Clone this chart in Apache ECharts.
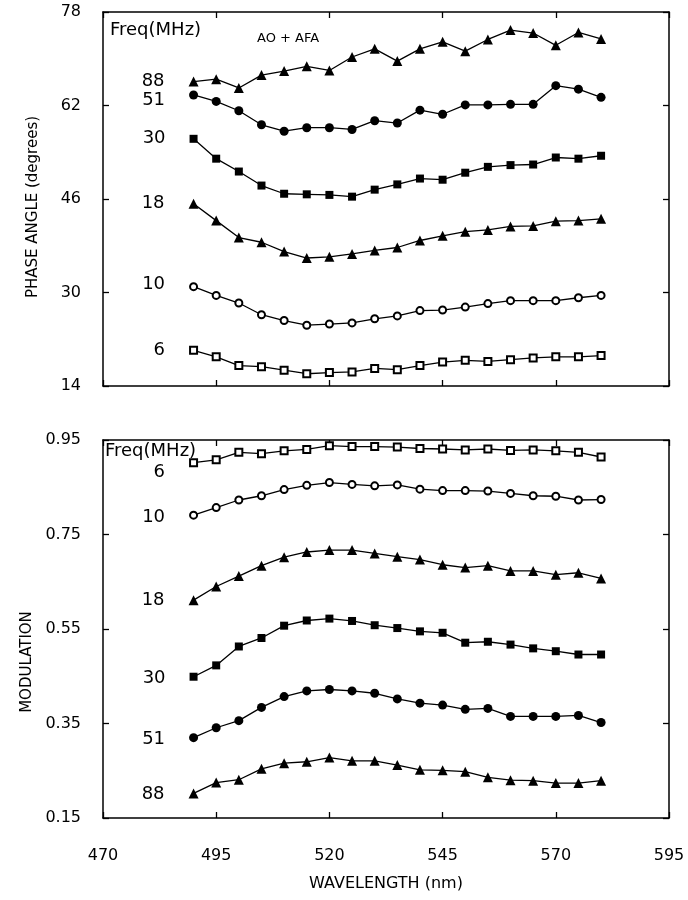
<!DOCTYPE html>
<html>
<head>
<meta charset="utf-8">
<script src="https://cdn.jsdelivr.net/npm/echarts@6/dist/echarts.min.js"></script>
<style>
html,body{margin:0;padding:0;background:#fff;}
#chart{width:688px;height:900px;}
</style>
</head>
<body>
<div id="chart"></div>
<script>
// ---- data ----
const wavelengths = [490,495,500,505,510,515,520,525,530,535,540,545,550,555,560,565,570,575,580];

const phase88 = [66.1,66.5,65.0,67.2,67.9,68.7,68.0,70.3,71.7,69.6,71.7,72.9,71.3,73.3,74.9,74.4,72.3,74.5,73.4];
const phase51 = [63.8,62.7,61.1,58.7,57.6,58.2,58.2,57.9,59.4,59.0,61.2,60.5,62.1,62.1,62.2,62.2,65.4,64.8,63.4];
const phase30 = [56.3,52.9,50.7,48.3,46.9,46.8,46.7,46.4,47.6,48.5,49.5,49.3,50.5,51.5,51.8,51.9,53.1,52.9,53.4];
const phase18 = [45.2,42.3,39.4,38.6,37.0,35.9,36.1,36.6,37.2,37.7,38.9,39.7,40.4,40.7,41.3,41.4,42.2,42.3,42.6];
const phase10 = [31.0,29.5,28.2,26.2,25.2,24.4,24.6,24.8,25.5,26.0,26.9,27.0,27.5,28.1,28.6,28.6,28.6,29.1,29.5];
const phase6  = [20.1,19.0,17.5,17.3,16.7,16.1,16.3,16.4,17.0,16.8,17.5,18.1,18.4,18.2,18.5,18.8,19.0,19.0,19.2];

const mod6  = [0.902,0.908,0.924,0.921,0.927,0.930,0.938,0.936,0.936,0.935,0.932,0.931,0.929,0.931,0.928,0.929,0.927,0.924,0.914];
const mod10 = [0.791,0.807,0.823,0.832,0.845,0.854,0.860,0.856,0.853,0.855,0.846,0.843,0.843,0.842,0.837,0.832,0.831,0.823,0.824];
const mod18 = [0.611,0.640,0.662,0.684,0.702,0.713,0.717,0.717,0.710,0.703,0.697,0.686,0.680,0.684,0.673,0.673,0.665,0.669,0.657];
const mod30 = [0.449,0.473,0.513,0.531,0.557,0.568,0.572,0.567,0.558,0.552,0.545,0.542,0.521,0.523,0.517,0.509,0.503,0.496,0.496];
const mod51 = [0.320,0.341,0.356,0.384,0.407,0.419,0.422,0.419,0.414,0.402,0.393,0.389,0.380,0.382,0.365,0.365,0.365,0.367,0.352];
const mod88 = [0.202,0.225,0.231,0.254,0.266,0.269,0.278,0.271,0.271,0.262,0.252,0.251,0.248,0.236,0.230,0.229,0.224,0.224,0.229];

const wavelengthTicks = [470,495,520,545,570,595];
const phaseTicks = [14,30,46,62,78];
const modTicks = [0.15,0.35,0.55,0.75,0.95];

// ---- chart ----
const FONT = 'DejaVu Sans';
const chart = echarts.init(document.getElementById('chart'), null, {renderer:'canvas'});

function frameX(grid, pos, showLabel, ticks){
  return {
    type:'value', gridIndex:grid, position:pos, min:470, max:595,
    axisLine:{show:true, onZero:false, lineStyle:{color:'#000', width:1.5}},
    axisTick:{show:true, inside:true, length:6, customValues:ticks, lineStyle:{color:'#000', width:1.3}},
    axisLabel:{show:showLabel, customValues:ticks, color:'#000', fontFamily:FONT, fontSize:16, margin:30},
    splitLine:{show:false}
  };
}
function frameY(grid, pos, showLabel, min, max, ticks, fmt){
  return {
    type:'value', gridIndex:grid, position:pos, min:min, max:max,
    axisLine:{show:true, onZero:false, lineStyle:{color:'#000', width:1.5}},
    axisTick:{show:true, inside:true, length:6, customValues:ticks, lineStyle:{color:'#000', width:1.3}},
    axisLabel:{show:showLabel, customValues:ticks, color:'#000', fontFamily:FONT, fontSize:16, margin:22, formatter:fmt},
    splitLine:{show:false}
  };
}

const xAxes = [
  frameX(0,'bottom',false,wavelengthTicks),
  frameX(0,'top',false,wavelengthTicks),
  Object.assign(frameX(1,'bottom',true,wavelengthTicks),{
    name:'WAVELENGTH (nm)', nameLocation:'middle', nameGap:58,
    nameTextStyle:{color:'#000', fontFamily:FONT, fontSize:16}
  }),
  frameX(1,'top',false,wavelengthTicks)
];
const yAxes = [
  Object.assign(frameY(0,'left',true,14,78,phaseTicks,v=>String(v)),{
    name:'PHASE ANGLE (degrees)', nameLocation:'middle', nameGap:62, nameRotate:90,
    nameTextStyle:{color:'#000', fontFamily:FONT, fontSize:15, padding:[0,16,0,0]}
  }),
  frameY(0,'right',false,14,78,phaseTicks,v=>String(v)),
  Object.assign(frameY(1,'left',true,0.15,0.95,modTicks,v=>v.toFixed(2)),{
    name:'MODULATION', nameLocation:'middle', nameGap:62, nameRotate:90,
    nameTextStyle:{color:'#000', fontFamily:FONT, fontSize:15, padding:[0,66,0,0]}
  }),
  frameY(1,'right',false,0.15,0.95,modTicks,v=>v.toFixed(2))
];

function mkSeries(name, vals, xi, yi, symbol, size, label, dy){
  const empty = symbol.indexOf('empty') === 0;
  const data = wavelengths.map((w,i)=>[w, vals[i]]);
  data[0] = {
    value:data[0],
    label:{show:true, position:'left', distance:24, formatter:label,
      color:'#000', fontFamily:FONT, fontSize:18, offset:[0,dy||0]}
  };
  return {
    name:name, type:'line', xAxisIndex:xi, yAxisIndex:yi, data:data,
    symbol:symbol, symbolSize:size, showSymbol:true,
    lineStyle:{color:'#000', width:1.3},
    itemStyle:{color:'#000', borderColor:'#000', borderWidth: empty ? 2 : 0},
    label:{show:false}, emphasis:{disabled:true}, animation:false, z:3
  };
}

const series = [
  mkSeries('P88',phase88,0,0,'triangle',10,'88',0),
  mkSeries('P51',phase51,0,0,'circle',9,'51',5),
  mkSeries('P30',phase30,0,0,'rect',8,'30',0),
  mkSeries('P18',phase18,0,0,'triangle',10,'18',0),
  mkSeries('P10',phase10,0,0,'emptyCircle',7,'10',-2),
  mkSeries('P6',phase6,0,0,'emptyRect',7,'6',0),
  mkSeries('M6',mod6,2,2,'emptyRect',7,'6',10),
  mkSeries('M10',mod10,2,2,'emptyCircle',7,'10',2),
  mkSeries('M18',mod18,2,2,'triangle',10,'18',0),
  mkSeries('M30',mod30,2,2,'rect',8,'30',2),
  mkSeries('M51',mod51,2,2,'circle',9,'51',2),
  mkSeries('M88',mod88,2,2,'triangle',10,'88',1)
];

chart.setOption({
  backgroundColor:'#fff',
  animation:false,
  grid:[
    {left:103, right:19, top:12, height:374, containLabel:false},
    {left:103, right:19, top:440, height:378, containLabel:false}
  ],
  xAxis:xAxes,
  yAxis:yAxes,
  graphic:[
    {type:'text', left:110, top:21, style:{text:'Freq(MHz)', fill:'#000', font:'18px "DejaVu Sans"'}},
    {type:'text', left:257, top:32, style:{text:'AO + AFA', fill:'#000', font:'13px "DejaVu Sans"'}},
    {type:'text', left:105, top:442, style:{text:'Freq(MHz)', fill:'#000', font:'18px "DejaVu Sans"'}}
  ],
  series:series
});
</script>
</body>
</html>
